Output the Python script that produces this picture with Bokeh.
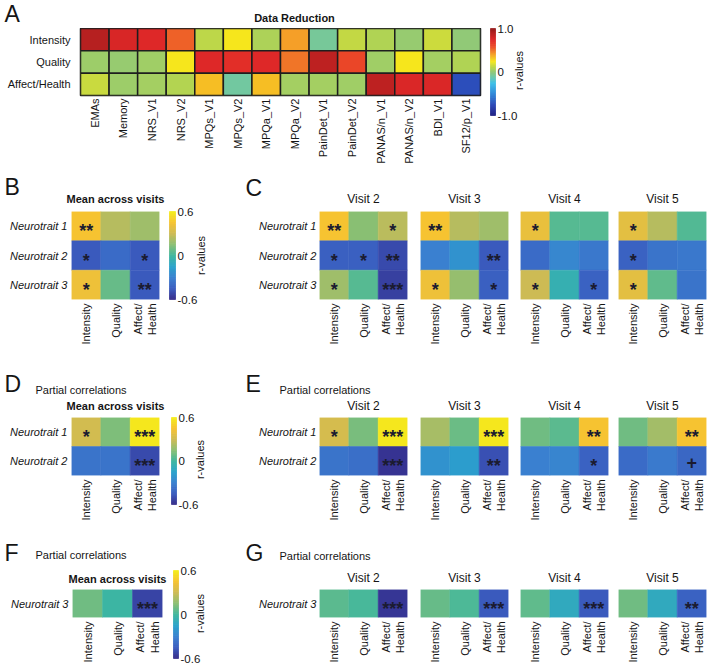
import numpy as np
from bokeh.plotting import figure
from bokeh.models import FactorRange, ColumnDataSource, LinearColorMapper, Label, Range1d
from bokeh.layouts import column, row
from bokeh.embed import file_html
from bokeh.resources import INLINE
from bokeh.core.properties import value

FONT = "Liberation Sans"

# ---------------- data ----------------
a_rows = ["Intensity", "Quality", "Affect/Health"]
a_cols = ["EMAs", "Memory", "NRS_V1", "NRS_V2", "MPQs_V1", "MPQs_V2", "MPQa_V1",
          "MPQa_V2", "PainDet_V1", "PainDet_V2", "PANAS/n_V1", "PANAS/n_V2", "BDI_V1", "SF12/p_V1"]
a_intensity = [0.90, 0.78, 0.75, 0.55, 0.12, 0.25, 0.08, 0.42, -0.07, 0.14, 0.09, 0.03, 0.16, 0.01]
a_quality = [0.04, 0.03, 0.05, 0.25, 0.75, 0.72, 0.75, 0.50, 0.88, 0.62, 0.05, 0.25, 0.06, 0.09]
a_affect = [0.15, 0.04, 0.06, 0.10, 0.35, -0.08, 0.35, 0.06, 0.06, 0.05, 0.88, 0.77, 0.77, -0.72]

dims = ["Intensity", "Quality", "Affect/\nHealth"]
traits_123 = ["Neurotrait 1", "Neurotrait 2", "Neurotrait 3"]
traits_12 = ["Neurotrait 1", "Neurotrait 2"]
traits_3 = ["Neurotrait 3"]
visits = ["Visit 2", "Visit 3", "Visit 4", "Visit 5"]

# B: mean across visits
b_vals = [[0.45, 0.25, 0.20], [-0.45, -0.38, -0.45], [0.42, 0.08, -0.45]]
b_stars = [["**", "", ""], ["*", "", "*"], ["*", "", "**"]]
# C: per visit
c_v2 = [[0.45, 0.15, 0.26], [-0.43, -0.43, -0.50], [0.20, 0.05, -0.53]]
c_v3 = [[0.45, 0.25, 0.20], [-0.30, -0.22, -0.45], [0.42, 0.18, -0.43]]
c_v4 = [[0.40, 0.05, 0.05], [-0.38, -0.27, -0.33], [0.30, -0.06, -0.42]]
c_v5 = [[0.38, 0.25, 0.04], [-0.42, -0.35, -0.33], [0.38, 0.07, -0.35]]
c_v2_stars = [["**", "", "*"], ["*", "*", "**"], ["*", "", "***"]]
c_v3_stars = [["**", "", ""], ["", "", "**"], ["*", "", "*"]]
c_v4_stars = [["*", "", ""], ["", "", ""], ["*", "", "*"]]
c_v5_stars = [["*", "", ""], ["*", "", ""], ["*", "", ""]]
# D: partial, mean
d_vals = [[0.32, 0.13, 0.58], [-0.35, -0.35, -0.50]]
d_stars = [["*", "", "***"], ["", "", "***"]]
# E: partial, per visit
e_v2 = [[0.33, 0.12, 0.58], [-0.35, -0.37, -0.57]]
e_v3 = [[0.22, 0.09, 0.58], [-0.22, -0.17, -0.48]]
e_v4 = [[0.10, 0.06, 0.45], [-0.30, -0.28, -0.42]]
e_v5 = [[0.10, 0.21, 0.45], [-0.38, -0.32, -0.40]]
e_v2_stars = [["*", "", "***"], ["", "", "***"]]
e_v3_stars = [["", "", "***"], ["", "", "**"]]
e_v4_stars = [["", "", "**"], ["", "", "*"]]
e_v5_stars = [["", "", "**"], ["", "", "+"]]
# F: partial, mean, Neurotrait 3
f_vals = [[0.10, -0.01, -0.52]]
f_stars = [["", "", "***"]]
# G: partial, per visit, Neurotrait 3
g_v2 = [[0.06, 0.02, -0.56]]
g_v3 = [[0.08, 0.03, -0.45]]
g_v4 = [[0.07, -0.10, -0.45]]
g_v5 = [[0.10, -0.10, -0.42]]
g_v2_stars = [["", "", "***"]]
g_v3_stars = [["", "", "***"]]
g_v4_stars = [["", "", "***"]]
g_v5_stars = [["", "", "**"]]

cb_ticks_a = [-1.0, 0.0, 1.0]
cb_labels_a = ["-1.0", "0", "1.0"]
cb_ticks_b = [-0.6, 0.0, 0.6]
cb_labels_b = ["-0.6", "0", "0.6"]

# ---------------- palettes ----------------
def interp_palette(anchors, n=256):
    pos = np.array([a[0] for a in anchors], float)
    rgb = np.array([[int(c[k:k + 2], 16) for k in (1, 3, 5)] for _, c in anchors], float)
    t = np.linspace(pos[0], pos[-1], n)
    out = np.stack([np.interp(t, pos, rgb[:, k]) for k in range(3)], axis=1)
    return ["#%02x%02x%02x" % tuple(int(round(v)) for v in c) for c in out]

jet_like = interp_palette([(-1.0, "#1c1c80"), (-0.75, "#2c48b8"), (-0.5, "#2f86d8"), (-0.25, "#3cc0e8"),
                           (-0.1, "#6cc8a8"), (0.0, "#8cc87c"), (0.1, "#b4d450"), (0.2, "#dce030"),
                           (0.25, "#f6e81c"), (0.4, "#f6a828"), (0.5, "#f07828"), (0.6, "#ec4c28"),
                           (0.75, "#e02828"), (0.9, "#b82020"), (1.0, "#961818")])
par_cols = ["#352A87", "#3A5BBF", "#3A80D0", "#2AA2CC", "#3EB7A0", "#88BF74", "#CCBB55", "#F6C232", "#F5EC1A"]
parula = interp_palette([(i / 8.0, c) for i, c in enumerate(par_cols)])

mapper_a = LinearColorMapper(palette=jet_like, low=-1.0, high=1.0)
mapper_p = LinearColorMapper(palette=parula, low=-0.6, high=0.6)

TXT = "#151515"
STAR = "#1b1b30"


# ---------------- helpers ----------------
def box(w, h, bl, br, bt, bb):
    return dict(w=w, h=h, bl=bl, br=br, bt=bt, bb=bb)


def plain_fig(w, h, x_range, y_range, borders=(0, 0, 0, 0), y_loc=None, x_loc=None):
    bl, br, bt, bb = borders
    p = figure(x_range=x_range, y_range=y_range, width=w, height=h,
               min_border_left=bl, min_border_right=br, min_border_top=bt, min_border_bottom=bb,
               toolbar_location=None, output_backend="svg", tools="",
               y_axis_location=y_loc, x_axis_location=x_loc)
    p.grid.visible = False
    p.outline_line_color = None
    p.background_fill_color = "white"
    p.border_fill_color = "white"
    return p


def heatmap(bx, rows, cols, vals, stars, mapper, show_y=True, grid_color=None,
            y_standoff=4, x_standoff=4, italic=True):
    p = plain_fig(bx["w"], bx["h"], FactorRange(factors=cols), FactorRange(factors=rows[::-1]),
                  borders=(bx["bl"], bx["br"], bx["bt"], bx["bb"]),
                  y_loc="left" if show_y else None, x_loc="below")
    for ax in p.axis:
        ax.axis_line_color = None
        ax.major_tick_line_color = None
        ax.minor_tick_line_color = None
        ax.major_tick_out = 0
        ax.major_tick_in = 0
        ax.minor_tick_out = 0
        ax.minor_tick_in = 0
        ax.major_label_text_font = FONT
        ax.major_label_text_font_size = "11px"
        ax.major_label_text_color = TXT
    xs, ys, vs, ss, offs = [], [], [], [], []
    for i, r in enumerate(rows):
        for j, c in enumerate(cols):
            xs.append(c)
            ys.append(r)
            vs.append(vals[i][j])
            s = stars[i][j] if stars else ""
            ss.append(s)
            offs.append(1 if s == "+" else 5)
    src = ColumnDataSource(dict(x=xs, y=ys, v=vs, s=ss, off=offs))
    cm = {"field": "v", "transform": mapper}
    if grid_color:
        p.rect("x", "y", 1, 1, source=src, fill_color=cm, line_color=grid_color, line_width=1.5)
        p.outline_line_color = grid_color
        p.outline_line_width = 1.5
    else:
        p.rect("x", "y", 1, 1, source=src, fill_color=cm, line_color=cm, line_width=0.5)
    if stars:
        p.text("x", "y", text="s", source=src, text_align="center", text_baseline="middle",
               y_offset="off", text_font=value(FONT), text_font_size="18px",
               text_font_style="bold", text_color=STAR)
    p.xaxis.major_label_orientation = np.pi / 2
    p.xaxis.major_label_standoff = x_standoff
    if show_y:
        p.yaxis.major_label_standoff = y_standoff
        if italic:
            p.yaxis.major_label_text_font_style = "italic"
    return row(p, spacing=0)


def colorbar(fig_x0, fig_y0, w, h, bar_x0, bar_w, bar_y0, bar_h, mapper, lo, hi,
             ticks, labels, lab_cx, lab_cy):
    """Colour bar drawn in its own scales: bar spans x 0..1 and y lo..hi."""
    dpp = (hi - lo) / float(bar_h)
    x_range = Range1d((fig_x0 - bar_x0) / float(bar_w), (fig_x0 + w - bar_x0) / float(bar_w))
    y_range = Range1d(lo - (fig_y0 + h - (bar_y0 + bar_h)) * dpp, hi + (bar_y0 - fig_y0) * dpp)
    p = plain_fig(w, h, x_range, y_range)
    edges = np.linspace(lo, hi, 129)
    src = ColumnDataSource(dict(bottom=edges[:-1], top=edges[1:], mid=(edges[:-1] + edges[1:]) / 2))
    cm = {"field": "mid", "transform": mapper}
    p.quad(left=0, right=1, bottom="bottom", top="top", source=src,
           fill_color=cm, line_color=cm, line_width=0.6)
    tsrc = ColumnDataSource(dict(y=ticks, t=labels))
    p.text(x=1 + 2.0 / bar_w, y="y", text="t", source=tsrc, text_align="left",
           text_baseline="middle", text_font=value(FONT), text_font_size="11.5px",
           text_color=TXT)
    p.add_layout(Label(x=lab_cx - fig_x0, y=fig_y0 + h - lab_cy, x_units="screen", y_units="screen",
                       text="r-values", text_align="center", text_baseline="middle",
                       angle=np.pi / 2, text_font=FONT, text_font_size="11px", text_color=TXT))
    return p


def header(x0, y0, w, h, items):
    """A text strip; items are (text, x, y, size, align, baseline, style) in page pixels."""
    p = plain_fig(w, h, Range1d(x0, x0 + w), Range1d(y0 + h, y0))
    for (text, x, y, size, align, baseline, style) in items:
        p.add_layout(Label(x=x, y=y, text=text, text_align=align, text_baseline=baseline,
                           text_font=FONT, text_font_size=size, text_font_style=style,
                           text_color=TXT))
    return p


LET = "23px"
REG = "11px"
VIS = "12px"
LX = 4  # left position of the panel letters

# visit-panel geometry (shared by C, E, G)
v_w = [173, 101, 99, 94]
v_bl = [79, 7, 6, 5]
v_br = [6, 6, 5, 1]
v_cx = [363, 464, 564, 662]

# ---------------- Row 1 : panel A ----------------
hdrA = header(0, 0, 486, 28, [("A", LX, 13, LET, "left", "middle", "normal"),
                              ("Data Reduction", 294, 17, REG, "center", "middle", "bold")])
figA = heatmap(box(486, 138, 80, 6, 0, 71), a_rows, a_cols, [a_intensity, a_quality, a_affect],
               None, mapper_a, grid_color="#1e1e1e", y_standoff=10, x_standoff=3, italic=False)
cbA = colorbar(486, 0, 221, 166, 490, 5, 28, 87, mapper_a, -1.0, 1.0, cb_ticks_a, cb_labels_a, 518, 70)
row1 = row(column(hdrA, figA, spacing=0), cbA, spacing=0)

# ---------------- Row 2 : panels B, C ----------------
hdrB = header(0, 166, 167, 40, [("B", LX, 186, LET, "left", "middle", "normal"),
                                ("Mean across visits", 115, 198, REG, "center", "middle", "bold")])
figB = heatmap(box(167, 156, 71, 8, 5, 63), traits_123, dims, b_vals, b_stars, mapper_p)
cbB = colorbar(167, 166, 73, 196, 169, 6, 211, 88, mapper_p, -0.6, 0.6, cb_ticks_b, cb_labels_b, 200, 255)
hdrC = header(240, 166, 467, 40, [("C", 245, 187, LET, "left", "middle", "normal")] +
              [(visits[k], v_cx[k], 198, VIS, "center", "middle", "normal") for k in range(4)])
c_figs = []
for k, (vals, st) in enumerate([(c_v2, c_v2_stars), (c_v3, c_v3_stars), (c_v4, c_v4_stars), (c_v5, c_v5_stars)]):
    c_figs.append(heatmap(box(v_w[k], 156, v_bl[k], v_br[k], 5, 63), traits_123, dims, vals, st,
                          mapper_p, show_y=(k == 0), y_standoff=3))
row2 = row(column(hdrB, figB, spacing=0), cbB, column(hdrC, row(*c_figs, spacing=0), spacing=0), spacing=0)

# ---------------- Row 3 : panels D, E ----------------
hdrD = header(0, 362, 167, 50, [("D", LX, 383, LET, "left", "middle", "normal"),
                                ("Partial correlations", 35, 389, REG, "left", "middle", "normal"),
                                ("Mean across visits", 115, 405, REG, "center", "middle", "bold")])
figD = heatmap(box(167, 123, 71, 8, 5, 60), traits_12, dims, d_vals, d_stars, mapper_p)
cbD = colorbar(167, 362, 73, 173, 171, 5, 417, 87, mapper_p, -0.6, 0.6, cb_ticks_b, cb_labels_b, 199, 459)
hdrE = header(240, 362, 467, 50, [("E", 245, 383, LET, "left", "middle", "normal"),
                                  ("Partial correlations", 279, 389, REG, "left", "middle", "normal")] +
              [(visits[k], v_cx[k], 405, VIS, "center", "middle", "normal") for k in range(4)])
e_figs = []
for k, (vals, st) in enumerate([(e_v2, e_v2_stars), (e_v3, e_v3_stars), (e_v4, e_v4_stars), (e_v5, e_v5_stars)]):
    e_figs.append(heatmap(box(v_w[k], 123, v_bl[k], v_br[k], 5, 60), traits_12, dims, vals, st,
                          mapper_p, show_y=(k == 0), y_standoff=3))
row3 = row(column(hdrD, figD, spacing=0), cbD, column(hdrE, row(*e_figs, spacing=0), spacing=0), spacing=0)

# ---------------- Row 4 : panels F, G ----------------
hdrF = header(0, 535, 167, 50, [("F", LX, 552, LET, "left", "middle", "normal"),
                                ("Partial correlations", 35, 554, REG, "left", "middle", "normal"),
                                ("Mean across visits", 117, 578, REG, "center", "middle", "bold")])
figF = heatmap(box(167, 80, 72, 5, 4, 46), traits_3, dims, f_vals, f_stars, mapper_p)
cbF = colorbar(167, 535, 73, 130, 173, 5, 570, 88, mapper_p, -0.6, 0.6, cb_ticks_b, cb_labels_b, 199, 613)
hdrG = header(240, 535, 467, 50, [("G", 245, 552, LET, "left", "middle", "normal"),
                                  ("Partial correlations", 279, 555, REG, "left", "middle", "normal")] +
              [(visits[k], v_cx[k], 577, VIS, "center", "middle", "normal") for k in range(4)])
g_figs = []
for k, (vals, st) in enumerate([(g_v2, g_v2_stars), (g_v3, g_v3_stars), (g_v4, g_v4_stars), (g_v5, g_v5_stars)]):
    g_figs.append(heatmap(box(v_w[k], 80, v_bl[k], v_br[k], 4, 46), traits_3, dims, vals, st,
                          mapper_p, show_y=(k == 0), y_standoff=3))
row4 = row(column(hdrF, figF, spacing=0), cbF, column(hdrG, row(*g_figs, spacing=0), spacing=0), spacing=0)

layout = column(row1, row2, row3, row4, spacing=0)
open("out.html", "w").write(file_html(layout, INLINE))
